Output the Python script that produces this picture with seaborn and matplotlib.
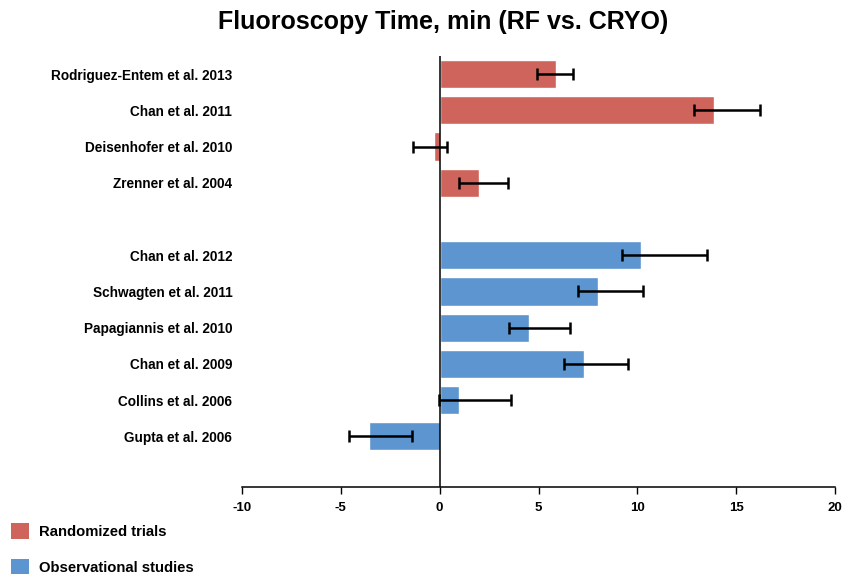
import matplotlib
matplotlib.use("Agg")
import matplotlib.pyplot as plt
from matplotlib.patches import Patch
import seaborn as sns
import pandas as pd
import numpy as np

studies = ["Rodriguez-Entem et al. 2013", "Chan et al. 2011", "Deisenhofer et al. 2010",
           "Zrenner et al. 2004", "Chan et al. 2012", "Schwagten et al. 2011",
           "Papagiannis et al. 2010", "Chan et al. 2009", "Collins et al. 2006",
           "Gupta et al. 2006"]
groups = ["Randomized trials"] * 4 + ["Observational studies"] * 6
values = [5.9, 13.9, -0.3, 2.0, 10.2, 8.0, 4.5, 7.3, 1.0, -3.6]
ci_low = [4.9, 12.85, -1.35, 1.0, 9.2, 7.0, 3.5, 6.3, -0.05, -4.6]
ci_high = [6.75, 16.2, 0.35, 3.45, 13.5, 10.3, 6.6, 9.55, 3.6, -1.4]
positions = [0, 1, 2, 3, 5, 6, 7, 8, 9, 10]
xticks = [-10, -5, 0, 5, 10, 15, 20]

red = "#CF645D"
blue = "#5C95CF"

df = pd.DataFrame({"study": studies, "group": groups, "value": values, "pos": positions})

sns.set_theme(style="white")
plt.rcParams["font.family"] = ["Liberation Sans", "DejaVu Sans"]
plt.rcParams["font.weight"] = "bold"
plt.rcParams["text.color"] = "black"
plt.rcParams["xtick.color"] = "black"
plt.rcParams["ytick.color"] = "black"

fig = plt.figure(figsize=(8.53, 5.77), dpi=100)
ax = fig.add_axes([242 / 853, 1 - 487 / 577, (835 - 242) / 853, (487 - 56) / 577])

sns.barplot(data=df, x="value", y="pos", hue="group", orient="h", native_scale=True,
            palette={"Randomized trials": red, "Observational studies": blue},
            width=0.78, dodge=False, errorbar=None, legend=False, ax=ax,
            saturation=1)

v = np.array(values)
lo = np.array(ci_low)
hi = np.array(ci_high)
ax.errorbar(v, positions, xerr=[v - lo, hi - v], fmt="none", ecolor="black",
            elinewidth=1.8, capsize=4.5, capthick=1.8, zorder=5)

ax.axvline(0, color="black", lw=1.1, zorder=4)
ax.set_xlim(-10, 20)
ax.set_ylim(11.4, -0.5)
ax.set_xticks(xticks)
ax.set_xticklabels([str(t) for t in xticks], fontsize=9.5, fontweight="bold", color="black")
ax.set_yticks(positions)
ax.set_yticklabels(studies, fontsize=9.8, fontweight="bold", color="black")
ax.tick_params(axis="y", length=0, pad=7)
ax.tick_params(axis="x", direction="out", length=5, width=1, color="black", pad=6, bottom=True)
ax.set_xlabel("")
ax.set_ylabel("")
for s in ["top", "right", "left"]:
    ax.spines[s].set_visible(False)
ax.spines["bottom"].set_color("black")
ax.spines["bottom"].set_linewidth(1.1)

fig.text(443 / 853, 1 - 22 / 577, "Fluoroscopy Time, min (RF vs. CRYO)", ha="center", va="center",
         fontsize=18, fontweight="bold", color="black")

handles = [Patch(facecolor=red, edgecolor="none"), Patch(facecolor=blue, edgecolor="none")]
fig.legend(handles, ["Randomized trials", "Observational studies"], loc="lower left",
           bbox_to_anchor=(-0.003, -0.019), frameon=False, handlelength=1.25, handleheight=1.25,
           labelspacing=1.35, handletextpad=0.65, prop={"size": 10.7, "weight": "bold"})

fig.savefig("out.png", dpi=100)
